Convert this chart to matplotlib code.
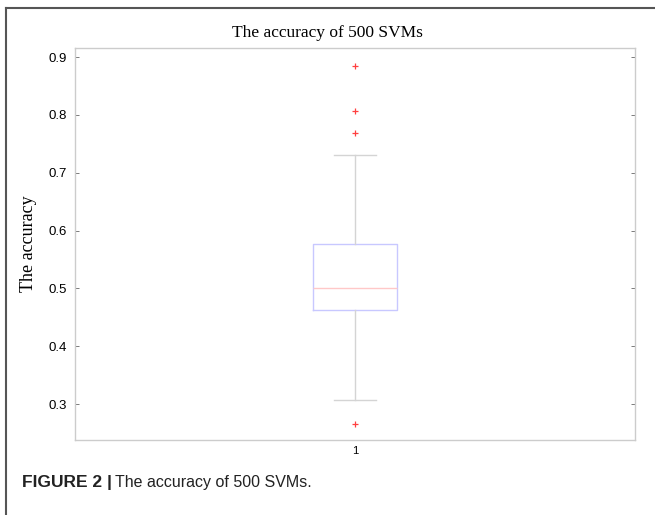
import matplotlib.pyplot as plt
from matplotlib.lines import Line2D

# box statistics (accuracy of 500 SVMs)
box_label = '1'
q1 = 0.462
median = 0.500
q3 = 0.577
whisker_low = 0.307
whisker_high = 0.730
outliers = [0.884, 0.806, 0.768, 0.265]

y_ticks = [0.3, 0.4, 0.5, 0.6, 0.7, 0.8, 0.9]

stats = [{'label': box_label, 'q1': q1, 'med': median, 'q3': q3,
          'whislo': whisker_low, 'whishi': whisker_high, 'fliers': outliers}]

fig = plt.figure(figsize=(6.55, 5.15), dpi=100)
ax = fig.add_axes([75 / 655, 1 - 440 / 515, 560 / 655, 392 / 515])

ax.bxp(stats, positions=[1], widths=0.15,
       boxprops=dict(color='#c8c8ff', linewidth=1),
       medianprops=dict(color='#ffc8c8', linewidth=1),
       whiskerprops=dict(color='#d4d4d4', linewidth=1),
       capprops=dict(color='#d4d4d4', linewidth=1),
       flierprops=dict(marker='+', markeredgecolor='#ff4040', markersize=5,
                       markeredgewidth=0.9))

ax.set_xlim(0.5, 1.5)
ax.set_ylim(0.238, 0.9156)
ax.set_yticks(y_ticks)
ax.set_yticklabels([f'{t:.1f}' for t in y_ticks], family='Liberation Sans', fontsize=9.5)
ax.set_xticks([1])
ax.set_xticklabels([box_label], family='Liberation Sans', fontsize=8)
ax.tick_params(axis='y', direction='in', length=3, width=0.6, color='#666666',
               right=True, pad=6)
ax.tick_params(axis='x', length=0, pad=4)
for s in ax.spines.values():
    s.set_color('#cccccc')
    s.set_linewidth(1)

ax.set_ylabel('The accuracy', family='Liberation Serif', fontsize=13, labelpad=8)
fig.text(0.5, 1 - 33 / 515, 'The accuracy of 500 SVMs', family='Liberation Serif',
         fontsize=12.5, ha='center', va='center')

# caption below the plot
fig.text(22 / 655, 1 - 483 / 515, 'FIGURE 2 |', family='Liberation Sans', fontsize=12.5,
         fontweight='bold', va='center', ha='left', color='#222222')
fig.text(115 / 655, 1 - 483 / 515, 'The accuracy of 500 SVMs.', family='Liberation Sans',
         fontsize=11.5, va='center', ha='left', color='#222222')

# frame around figure panel (left and top)
fig.add_artist(Line2D([6 / 655, 6 / 655], [0, 1 - 8 / 515], color='#555555', linewidth=1.5))
fig.add_artist(Line2D([6 / 655, 1], [1 - 8 / 515, 1 - 8 / 515], color='#555555', linewidth=1.5))

fig.savefig('out.png', dpi=100)
